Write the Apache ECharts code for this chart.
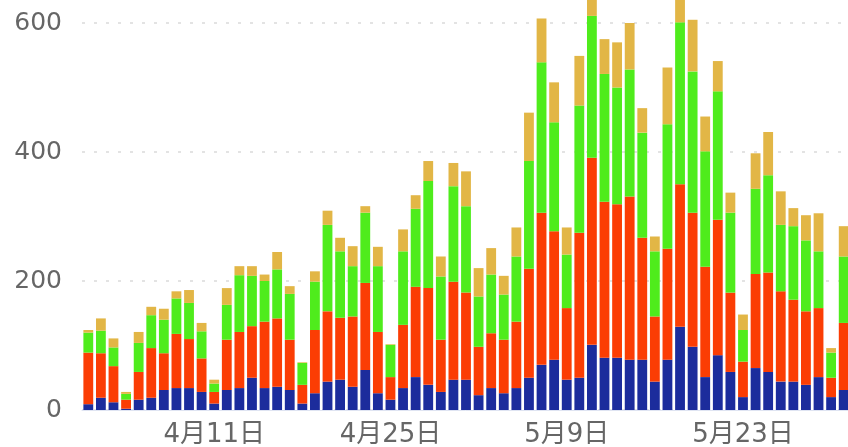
<!DOCTYPE html>
<html>
<head>
<meta charset="utf-8">
<style>
html, body { margin: 0; padding: 0; background: #fff; }
#main { width: 848px; height: 447px; }
</style>
<script src="https://cdn.jsdelivr.net/npm/echarts@6/dist/echarts.min.js"></script>
</head>
<body>
<div id="main"></div>
<script>
var days = [
	'4月1日', '4月2日', '4月3日', '4月4日', '4月5日', '4月6日', '4月7日', '4月8日', '4月9日', '4月10日',
	'4月11日', '4月12日', '4月13日', '4月14日', '4月15日', '4月16日', '4月17日', '4月18日', '4月19日', '4月20日',
	'4月21日', '4月22日', '4月23日', '4月24日', '4月25日', '4月26日', '4月27日', '4月28日', '4月29日', '4月30日',
	'5月1日', '5月2日', '5月3日', '5月4日', '5月5日', '5月6日', '5月7日', '5月8日', '5月9日', '5月10日',
	'5月11日', '5月12日', '5月13日', '5月14日', '5月15日', '5月16日', '5月17日', '5月18日', '5月19日', '5月20日',
	'5月21日', '5月22日', '5月23日', '5月24日', '5月25日', '5月26日', '5月27日', '5月28日', '5月29日', '5月30日',
	'5月31日'
];

// bottom -> top
var blueVals = [9, 19, 12, 2, 16, 19, 31, 34, 34, 28, 10, 31, 34, 50, 34, 36, 31, 10, 26, 44,
	47, 36, 62, 26, 16, 34, 51, 39, 28, 47, 47, 23, 34, 26, 34, 50, 70, 78, 47, 50,
	101, 81, 81, 78, 78, 44, 78, 129, 98, 51, 85, 59, 20, 65, 59, 44, 44, 39, 51, 20, 31];
var redVals = [80, 69, 56, 14, 43, 77, 57, 84, 76, 52, 18, 78, 87, 80, 103, 106, 78, 29, 98, 109,
	96, 109, 135, 95, 35, 98, 140, 150, 81, 152, 135, 75, 85, 83, 103, 169, 236, 199, 111, 225,
	290, 242, 238, 253, 189, 101, 172, 221, 208, 171, 210, 123, 55, 146, 154, 140, 127, 114, 107, 30, 104];
var greenVals = [31, 35, 29, 9, 45, 51, 52, 55, 56, 42, 13, 54, 88, 78, 63, 76, 71, 34, 75, 134,
	103, 78, 109, 102, 50, 114, 121, 166, 98, 148, 134, 78, 91, 70, 101, 167, 233, 169, 83, 197,
	220, 198, 181, 197, 163, 101, 193, 251, 219, 179, 199, 124, 49, 132, 151, 103, 114, 110, 88, 39, 103];
var goldVals = [4, 19, 14, 3, 17, 13, 17, 11, 20, 13, 6, 26, 14, 15, 10, 27, 12, 1, 16, 22,
	21, 31, 10, 30, 1, 34, 21, 31, 31, 36, 54, 44, 41, 29, 45, 75, 68, 62, 42, 77,
	49, 54, 70, 72, 38, 23, 88, 59, 80, 54, 47, 31, 24, 55, 67, 52, 28, 39, 59, 7, 47];

var yTicks = [0, 200, 400, 600, 800];

var colors = ['#1c2c9c', '#fb3d04', '#4fec1c', '#e2b646'];

var chart = echarts.init(document.getElementById('main'));

function barSeries(name, vals, color) {
	return {
		name: name,
		type: 'bar',
		stack: 'total',
		barCategoryGap: '22%',
		itemStyle: { color: color },
		data: vals
	};
}

var option = {
	animation: false,
	grid: {
		left: 82,
		right: -2,
		top: -106,
		bottom: 37,
		containLabel: false,
		outerBoundsMode: 'none'
	},
	xAxis: {
		type: 'category',
		data: days,
		axisTick: { show: false },
		axisLine: { show: true, lineStyle: { color: '#dfe4f2', width: 1 } },
		axisLabel: {
			color: '#666',
			fontSize: 26,
			fontFamily: 'DejaVu Sans, Noto Sans CJK SC',
			margin: 12,
			hideOverlap: false,
			interval: function (idx) { return (idx - 10) % 14 === 0; }
		}
	},
	yAxis: {
		type: 'value',
		min: yTicks[0],
		max: yTicks[yTicks.length - 1],
		interval: 200,
		axisLine: { show: false },
		axisTick: { show: false },
		axisLabel: {
			color: '#666',
			fontSize: 25,
			fontFamily: 'DejaVu Sans',
			margin: 20
		},
		splitLine: {
			show: true,
			lineStyle: { color: '#e3e3e3', width: 2, type: [3, 9] }
		}
	},
	series: [
		barSeries('a', blueVals, colors[0]),
		barSeries('b', redVals, colors[1]),
		barSeries('c', greenVals, colors[2]),
		barSeries('d', goldVals, colors[3])
	]
};

chart.setOption(option);
</script>
</body>
</html>
